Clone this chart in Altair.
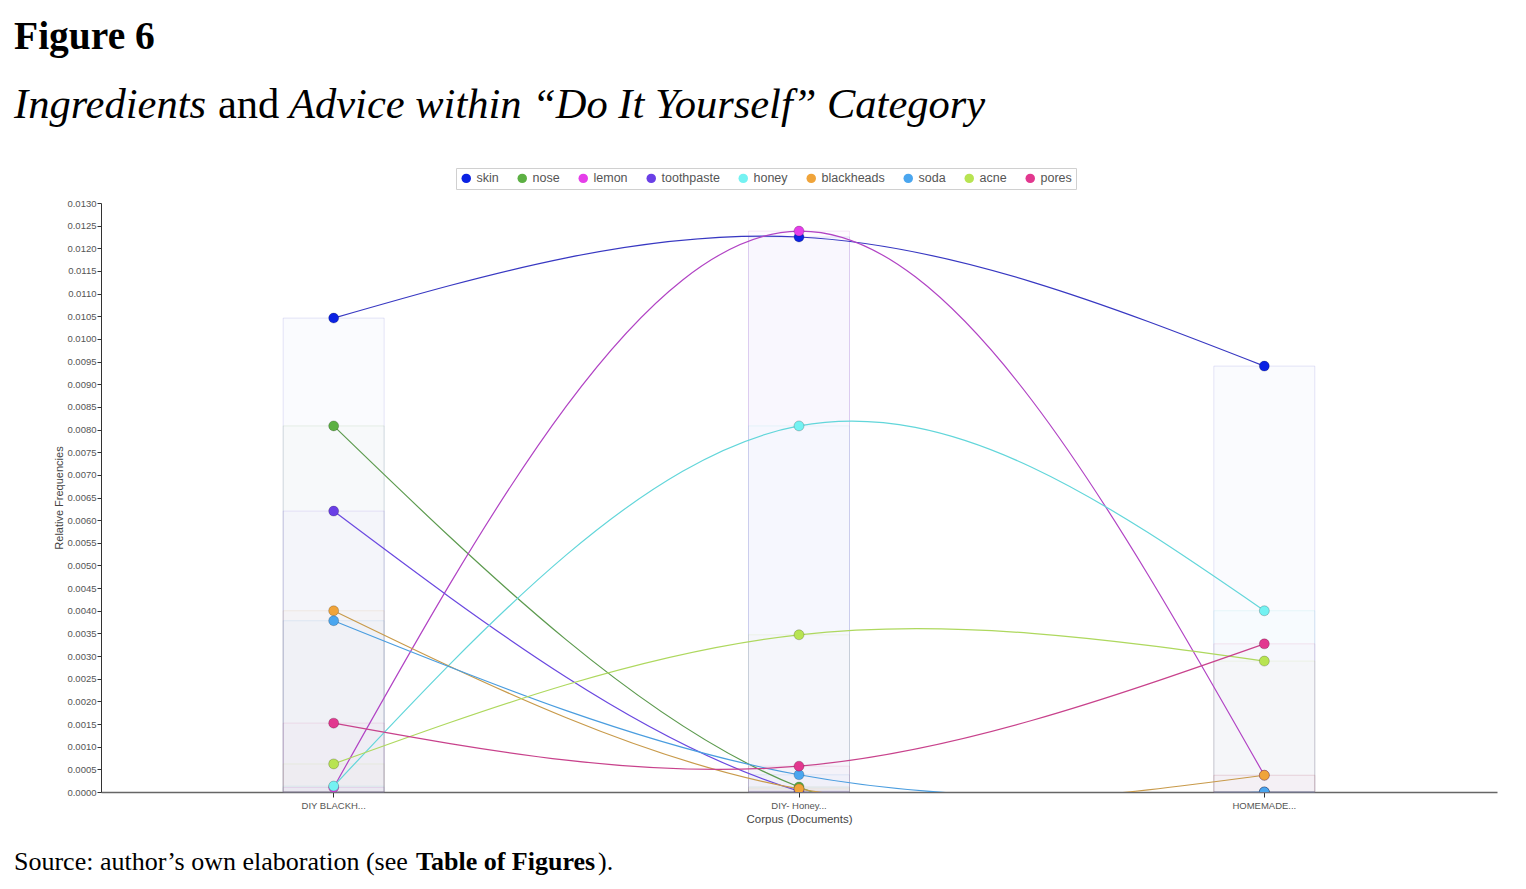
import altair as alt
import pandas as pd

# ---- data ----
docs = ["DIY BLACKH...", "DIY- Honey...", "HOMEMADE..."]
terms = ["skin", "nose", "lemon", "toothpaste", "honey", "blackheads", "soda", "acne", "pores"]
values = {
    "skin":       [0.01046, 0.01225, 0.00940],
    "nose":       [0.00808, 0.00011, 0.0],
    "lemon":      [0.00010, 0.01238, 0.00037],
    "toothpaste": [0.00620, 0.00002, 0.0],
    "honey":      [0.00013, 0.00808, 0.00400],
    "blackheads": [0.00400, 0.00007, 0.00037],
    "soda":       [0.00378, 0.00038, 0.0],
    "acne":       [0.00062, 0.00347, 0.00289],
    "pores":      [0.00152, 0.00057, 0.00327],
}
dot_colors = ["#0b22e3", "#5cb043", "#e53ee9", "#6a3fe6", "#74f2f2",
              "#f0a43a", "#4aa6ef", "#b8e452", "#e2388f"]
line_colors = ["#3838c2", "#5c9a4e", "#b143c4", "#6a48e0", "#62d6da",
               "#c89a4a", "#4a9ddf", "#aed85e", "#c8428c"]
y_ticks = [round(i * 0.0005, 4) for i in range(27)]

line_keys = [t + "_line" for t in terms]
bar_keys = [t + "_bar" for t in terms]

rows = []
for t, lk, bk in zip(terms, line_keys, bar_keys):
    for d, v in zip(docs, values[t]):
        rows.append({"doc": d, "term": t, "series_line": lk, "series_bar": bk, "value": v})
df = pd.DataFrame(rows)

sans = "Liberation Sans"
serif = "Liberation Serif"
ox, oy = 101, 203

x_enc = alt.X("doc:N", sort=docs,
              scale=alt.Scale(type="band", paddingInner=0, paddingOuter=0),
              axis=alt.Axis(title="Corpus (Documents)", labelAngle=0, labelFontSize=9.5,
                            labelColor="#555", labelFont=sans, labelPadding=3,
                            titleFont=sans, titleFontSize=11.5, titleFontWeight="normal",
                            titleColor="#444", titlePadding=4, domainColor="#666",
                            domainWidth=1.5, tickColor="#333", tickSize=5, grid=False))
y_axis = alt.Axis(title="Relative Frequencies", values=y_ticks, format=".4f",
                  labelFontSize=9.5, labelColor="#555", labelFont=sans,
                  labelPadding=1, titleFont=sans, titleFontSize=11,
                  titleFontWeight="normal", titleColor="#444", titlePadding=2,
                  domainColor="#333", tickColor="#333", tickSize=4, grid=False)
y_scale = alt.Scale(domain=[0, 0.013], nice=False, zero=True)
y_enc = alt.Y("value:Q", scale=y_scale, axis=y_axis)

line_stroke = alt.Stroke("series_line:N", sort=line_keys,
                         scale=alt.Scale(domain=line_keys, range=line_colors), legend=None)

base = alt.Chart(df)

bars = base.mark_bar(width=alt.RelativeBandSize(101 / 465.33), fillOpacity=0.018,
                     strokeOpacity=0.13, strokeWidth=1).encode(
    x=x_enc,
    y=alt.Y("value:Q", scale=y_scale, axis=y_axis, stack=None),
    fill=alt.Fill("series_bar:N", sort=bar_keys,
                  scale=alt.Scale(domain=bar_keys, range=dot_colors), legend=None),
    stroke=line_stroke,
)

lines = base.mark_line(interpolate="natural", clip=True, strokeWidth=1.2).encode(
    x=x_enc, y=y_enc,
    stroke=line_stroke,
    detail="term:N",
)

points = base.mark_circle(size=100, opacity=1, stroke="black", strokeOpacity=0.25,
                          strokeWidth=0.8, clip=True).encode(
    x=x_enc, y=y_enc,
    color=alt.Color("term:N", sort=terms, scale=alt.Scale(domain=terms, range=dot_colors),
                    legend=alt.Legend(title=None, orient="none", legendX=355, legendY=-35,
                                      direction="horizontal",
                                      symbolType="circle", symbolSize=90,
                                      symbolStrokeWidth=0, symbolOpacity=1,
                                      labelFont=sans, labelFontSize=12.5, labelColor="#555",
                                      strokeColor="#d0d0d0", padding=4, columnPadding=17,
                                      labelOffset=4)),
)


def txt(s, x, y, size, style="normal", weight="normal"):
    return alt.Chart(pd.DataFrame({"t": [s]})).mark_text(
        align="left", baseline="alphabetic", font=serif, fontSize=size,
        fontStyle=style, fontWeight=weight, color="black"
    ).encode(text="t:N", x=alt.value(x), y=alt.value(y))


texts = [
    txt("Figure 6", 14 - ox, 49 - oy, 39.5, weight="bold"),
    txt("Ingredients", 14 - ox, 118 - oy, 42.5, style="italic"),
    txt("and", 218 - ox, 118 - oy, 42.5),
    txt("Advice within \u201cDo It Yourself\u201d Category", 289 - ox, 118 - oy, 42.5, style="italic"),
    txt("Source: author\u2019s own elaboration (see", 14 - ox, 870 - oy, 26),
    txt("Table of Figures", 416 - ox, 870 - oy, 26, weight="bold"),
    txt(").", 598 - ox, 870 - oy, 26),
]

chart = alt.layer(bars, lines, points, *texts).properties(
    width=1396, height=589,
    padding={"left": ox, "top": oy, "right": 29, "bottom": 97},
    autosize=alt.AutoSizeParams(type="none"),
    background="white",
).configure_view(stroke=None)

chart.save("out.html", embed_options={"renderer": "svg", "actions": False})
